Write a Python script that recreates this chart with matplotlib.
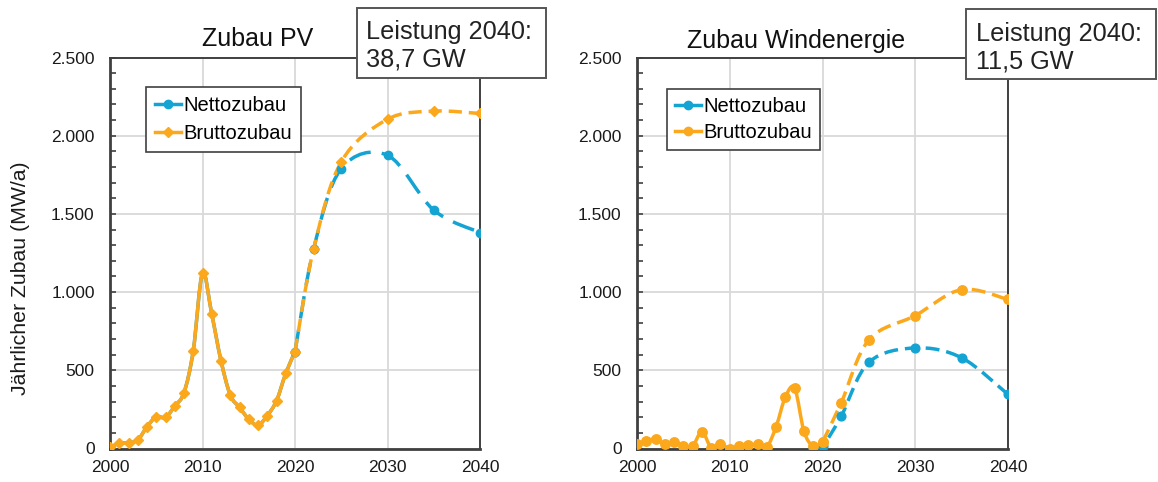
import numpy as np
import matplotlib
matplotlib.use("Agg")
import matplotlib.pyplot as plt
from matplotlib.path import Path
from matplotlib.patches import PathPatch, Rectangle
from matplotlib.ticker import FuncFormatter, MultipleLocator

plt.rcParams['font.family'] = ['Liberation Sans', 'DejaVu Sans']

# ---------------- data ----------------
hist_years = [2000, 2001, 2002, 2003, 2004, 2005, 2006, 2007, 2008, 2009, 2010,
              2011, 2012, 2013, 2014, 2015, 2016, 2017, 2018, 2019, 2020]
proj_years = [2020, 2022, 2025, 2030, 2035, 2040]

pv_brutto_hist = [8, 33, 37, 54, 139, 203, 199, 271, 357, 625, 1123,
                  859, 561, 342, 263, 187, 148, 210, 305, 480, 619]
pv_brutto_proj = [619, 1273, 1833, 2105, 2157, 2142]
pv_netto_proj = [619, 1273, 1790, 1875, 1524, 1381]

wind_brutto_hist = [26, 49, 60, 28, 41, 17, 17, 107, 6, 28, 0,
                    13, 21, 26, 11, 140, 330, 385, 110, 15, 41]
wind_brutto_proj = [41, 290, 695, 850, 1016, 953]
wind_netto_years = [2019, 2020, 2022, 2025, 2030, 2035, 2040]
wind_netto_proj = [0, 15, 205, 551, 643, 580, 346]

titles = ["Zubau PV", "Zubau Windenergie"]
box_texts = ["Leistung 2040:\n38,7 GW", "Leistung 2040:\n11,5 GW"]
legend_labels = ["Nettozubau", "Bruttozubau"]
ylabel = "Jährlicher Zubau (MW/a)"

# ---------------- style ----------------
BLUE = "#13a4d3"
ORANGE = "#fba81c"
W, H = 1158, 482
LW = 2.5


def smooth_path(x, y):
    pts = np.column_stack([np.asarray(x, float), np.asarray(y, float)])
    verts = [pts[0]]
    codes = [Path.MOVETO]
    n = len(pts)
    for i in range(n - 1):
        p0 = pts[i - 1] if i > 0 else pts[i]
        p1 = pts[i]
        p2 = pts[i + 1]
        p3 = pts[i + 2] if i + 2 < n else pts[i + 1]
        c1 = p1 + (p2 - p0) / 6.0
        c2 = p2 - (p3 - p1) / 6.0
        verts += [c1, c2, p2]
        codes += [Path.CURVE4] * 3
    return Path(np.array(verts), codes)


def draw_curve(ax, x, y, color, ls, z):
    patch = PathPatch(smooth_path(x, y), fill=False, edgecolor=color, lw=LW,
                      linestyle=ls, zorder=z, capstyle='butt')
    ax.add_patch(patch)


fig = plt.figure(figsize=(W / 100, H / 100), dpi=100)

axes_px = [(110, 57.5, 480, 448.5), (637, 57.5, 1008, 448.5)]
axs = []
for (x0, y0, x1, y1) in axes_px:
    ax = fig.add_axes([x0 / W, 1 - y1 / H, (x1 - x0) / W, (y1 - y0) / H])
    axs.append(ax)

fmt = FuncFormatter(lambda v, p: f"{v:,.0f}".replace(",", "."))

for k, ax in enumerate(axs):
    ax.set_xlim(2000, 2040)
    ax.set_ylim(0, 2500)
    ax.xaxis.set_major_locator(MultipleLocator(10))
    ax.yaxis.set_major_locator(MultipleLocator(500))
    ax.yaxis.set_minor_locator(MultipleLocator(100))
    ax.yaxis.set_major_formatter(fmt)
    ax.grid(True, which='major', color='#d9d9d9', lw=1.3, zorder=0)
    ax.set_axisbelow(True)
    ax.tick_params(axis='y', which='both', direction='in', length=4, width=1.2,
                   color='#404040', labelsize=12.5, pad=11, labelcolor='#1a1a1a')
    ax.tick_params(axis='x', which='both', length=0, labelsize=12.5, pad=8,
                   labelcolor='#1a1a1a')
    for side in ['left', 'bottom']:
        ax.spines[side].set_linewidth(2.0)
        ax.spines[side].set_color('#404040')
    for side in ['top', 'right']:
        ax.spines[side].set_linewidth(1.4)
        ax.spines[side].set_color('#404040')

# ---- PV ----
ax = axs[0]
draw_curve(ax, hist_years, pv_brutto_hist, BLUE, '-', 2)
draw_curve(ax, proj_years, pv_netto_proj, BLUE, (0, (6.5, 3.2)), 3)
draw_curve(ax, hist_years, pv_brutto_hist, ORANGE, '-', 4)
draw_curve(ax, proj_years, pv_brutto_proj, ORANGE, (0, (3.8, 2.0)), 5)
ax.plot(proj_years, pv_netto_proj, ls='none', marker='o', ms=6, color=BLUE, zorder=6)
ax.plot(hist_years, pv_brutto_hist, ls='none', marker='D', ms=5.2, color=ORANGE, zorder=7)
ax.plot(proj_years, pv_brutto_proj, ls='none', marker='D', ms=5.2, color=ORANGE, zorder=7)
h1, = ax.plot([], [], color=BLUE, lw=LW, marker='o', ms=6)
h2, = ax.plot([], [], color=ORANGE, lw=LW, marker='D', ms=5.2)
leg = ax.legend([h1, h2], legend_labels, loc='upper left', bbox_to_anchor=(0.097, 0.925),
                borderaxespad=0, fontsize=14.5, frameon=True, fancybox=False,
                handlelength=1.3, handletextpad=0.1, borderpad=0.45, labelspacing=0.45)
leg.get_frame().set_edgecolor('#404040')
leg.get_frame().set_linewidth(1.2)
leg.get_frame().set_alpha(1)

# ---- Wind ----
ax = axs[1]
draw_curve(ax, wind_netto_years, wind_netto_proj, BLUE, (0, (4.0, 2.0)), 3)
draw_curve(ax, hist_years, wind_brutto_hist, ORANGE, '-', 4)
draw_curve(ax, proj_years, wind_brutto_proj, ORANGE, (0, (4.0, 2.0)), 5)
ax.plot(wind_netto_years, wind_netto_proj, ls='none', marker='o', ms=6.3, color=BLUE, zorder=6)
ax.plot(hist_years, wind_brutto_hist, ls='none', marker='o', ms=6.8, color=ORANGE, zorder=7)
ax.plot(proj_years, wind_brutto_proj, ls='none', marker='o', ms=6.8, color=ORANGE, zorder=7)
h1, = ax.plot([], [], color=BLUE, lw=LW, marker='o', ms=6)
h2, = ax.plot([], [], color=ORANGE, lw=LW, marker='o', ms=6)
leg = ax.legend([h1, h2], legend_labels, loc='upper left', bbox_to_anchor=(0.08, 0.92),
                borderaxespad=0, fontsize=14.5, frameon=True, fancybox=False,
                handlelength=1.3, handletextpad=0.1, borderpad=0.4, labelspacing=0.35)
leg.get_frame().set_edgecolor('#404040')
leg.get_frame().set_linewidth(1.2)
leg.get_frame().set_alpha(1)

# ---- titles, labels, boxes ----
fig.text(201.7 / W, 1 - 46 / H, titles[0], fontsize=18, ha='left', va='baseline', color='#111111')
fig.text(796 / W, 1 - 48 / H, titles[1], fontsize=18, ha='center', va='baseline', color='#111111')
fig.text(21 / W, 1 - 278 / H, ylabel, fontsize=15.3, rotation=90, ha='center', va='center',
         color='#1a1a1a')

boxes = [(356.7, 7.7, 546, 78, 366.5), (966, 9, 1156, 79, 976.5)]
for (bx0, by0, bx1, by1, tx), txt in zip(boxes, box_texts):
    rect = Rectangle((bx0 / W, 1 - by1 / H), (bx1 - bx0) / W, (by1 - by0) / H,
                     transform=fig.transFigure, facecolor='white', edgecolor='#555555',
                     lw=1.4, zorder=10)
    fig.add_artist(rect)
    l1, l2 = txt.split("\n")
    fig.text(tx / W, 1 - (by0 + 31.5) / H, l1, fontsize=18.2, ha='left', va='baseline',
             color='#222222', zorder=11)
    fig.text(tx / W, 1 - (by0 + 59) / H, l2, fontsize=18.2, ha='left', va='baseline',
             color='#222222', zorder=11)

fig.savefig("out.png", dpi=100)
